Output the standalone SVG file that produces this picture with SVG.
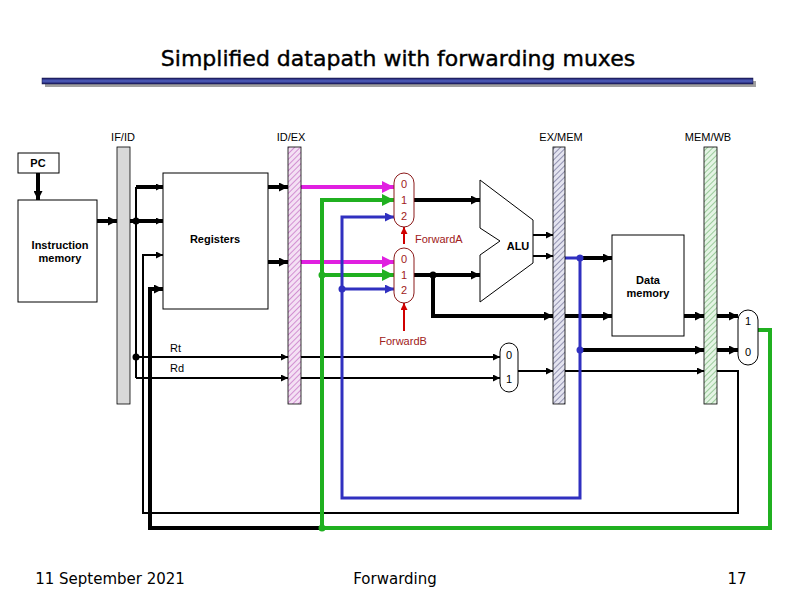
<svg xmlns="http://www.w3.org/2000/svg" width="792" height="612" viewBox="0 0 792 612">
<style>
.t{font-family:"Liberation Sans",Arial,sans-serif;font-size:11px;fill:#000}
.b{font-weight:bold}
.m{font-family:"Liberation Sans",Arial,sans-serif;font-size:11px;fill:#a02020}
.f{font-family:"DejaVu Sans",sans-serif;font-size:15px;fill:#000}
.thin{stroke:#000;stroke-width:2;fill:none}
.thick{stroke:#000;stroke-width:4;fill:none}
.box{fill:#fff;stroke:#000;stroke-width:1}
.mux{fill:#fff;stroke:#8b1a1a;stroke-width:1}
</style>
<defs>
<marker id="a" viewBox="0 0 10 10" refX="10" refY="5" markerWidth="7" markerHeight="7" markerUnits="userSpaceOnUse" orient="auto"><path d="M0,0L10,5L0,10z" fill="#000"/></marker>
<marker id="ah" viewBox="0 0 10 10" refX="10" refY="5" markerWidth="9" markerHeight="9" markerUnits="userSpaceOnUse" orient="auto"><path d="M0,0L10,5L0,10z" fill="#000"/></marker>
<marker id="am" viewBox="0 0 10 10" refX="10" refY="5" markerWidth="3" markerHeight="3" orient="auto"><path d="M0,0L10,5L0,10z" fill="#e020e0"/></marker>
<marker id="ag" viewBox="0 0 10 10" refX="10" refY="5" markerWidth="3" markerHeight="3" orient="auto"><path d="M0,0L10,5L0,10z" fill="#20b020"/></marker>
<marker id="ab" viewBox="0 0 10 10" refX="10" refY="5" markerWidth="3" markerHeight="3" orient="auto"><path d="M0,0L10,5L0,10z" fill="#3030c0"/></marker>
<marker id="ar" viewBox="0 0 10 10" refX="10" refY="5" markerWidth="3.5" markerHeight="3.5" orient="auto"><path d="M0,0L10,5L0,10z" fill="#d00000"/></marker>
<pattern id="hp" width="4" height="4" patternUnits="userSpaceOnUse" patternTransform="rotate(45)"><rect width="4" height="4" fill="#f4e0f4"/><line x1="0" y1="0" x2="0" y2="4" stroke="#b040b0" stroke-width="1"/></pattern>
<pattern id="hb" width="4" height="4" patternUnits="userSpaceOnUse" patternTransform="rotate(45)"><rect width="4" height="4" fill="#e4e4f0"/><line x1="0" y1="0" x2="0" y2="4" stroke="#404070" stroke-width="1"/></pattern>
<pattern id="hg" width="4" height="4" patternUnits="userSpaceOnUse" patternTransform="rotate(45)"><rect width="4" height="4" fill="#e4f4e4"/><line x1="0" y1="0" x2="0" y2="4" stroke="#50a050" stroke-width="1"/></pattern>
<linearGradient id="bar" x1="0" y1="0" x2="0" y2="1"><stop offset="0" stop-color="#1a1a60"/><stop offset="0.5" stop-color="#5060c0"/><stop offset="1" stop-color="#1a1a60"/></linearGradient>
</defs>
<rect width="792" height="612" fill="#fff"/>
<text x="398" y="66" text-anchor="middle" font-family="DejaVu Sans,sans-serif" font-size="22" font-weight="500" stroke="#000" stroke-width="0.4">Simplified datapath with forwarding muxes</text>
<rect x="45" y="81" width="711" height="6" fill="#a0a0a0"/>
<rect x="42" y="78" width="711" height="6" fill="url(#bar)" stroke="#101040" stroke-width="0.5"/>

<g id="labels">
<text class="t" x="123" y="141" text-anchor="middle" font-size="10">IF/ID</text>
<text class="t" x="291" y="141" text-anchor="middle" font-size="10">ID/EX</text>
<text class="t" x="561" y="141" text-anchor="middle" font-size="10">EX/MEM</text>
<text class="t" x="708" y="141" text-anchor="middle" font-size="10">MEM/WB</text>
<text class="t" x="170" y="352">Rt</text>
<text class="t" x="170" y="372">Rd</text>
</g>

<g id="connectors">
<path class="thin" d="M136,187V378"/>
<path class="thick" d="M136,187H163" stroke-width="3" marker-end="url(#a)"/>
<path class="thick" d="M136,221H163" stroke-width="3" marker-end="url(#a)"/>
<path class="thin" d="M136,357H288" marker-end="url(#a)"/>
<path class="thin" d="M136,378H288" marker-end="url(#a)"/>
<path class="thin" d="M301,357H500" marker-end="url(#a)"/>
<path class="thin" d="M301,378H500" marker-end="url(#a)"/>
<path class="thin" d="M518,371H553" marker-end="url(#a)"/>
<path class="thin" d="M565,371H704" marker-end="url(#a)"/>
<path class="thin" stroke-width="1.2" d="M717,371H738V513H143V255H163" marker-end="url(#a)"/>
<path class="thin" d="M533,235H553" marker-end="url(#a)"/>
<path class="thin" d="M533,256H553" marker-end="url(#a)"/>
<path class="thick" d="M38,173V200" marker-end="url(#ah)"/>
<path class="thick" d="M97,221H117" marker-end="url(#ah)"/>
<path class="thick" d="M130,221H136"/>
<path class="thick" d="M268,187H288" marker-end="url(#ah)"/>
<path class="thick" d="M268,262H288" marker-end="url(#ah)"/>
<path class="thick" d="M414,200H480" marker-end="url(#ah)"/>
<path class="thick" d="M414,275H480" marker-end="url(#ah)"/>
<path class="thick" d="M433,275V316H553" marker-end="url(#ah)"/>
<path class="thick" d="M565,316H612" marker-end="url(#ah)"/>
<path class="thick" d="M580,258H612" marker-end="url(#ah)"/>
<path class="thick" d="M580,350H704" marker-end="url(#ah)"/>
<path class="thick" d="M717,350H738" marker-end="url(#ah)"/>
<path class="thick" d="M684,316H704" marker-end="url(#ah)"/>
<path class="thick" d="M717,316H738" marker-end="url(#ah)"/>
<path class="thick" d="M322,528H150V289H163" marker-end="url(#ah)"/>
<path d="M301,187H394" stroke="#e020e0" stroke-width="4" fill="none" marker-end="url(#am)"/>
<path d="M301,262H394" stroke="#e020e0" stroke-width="4" fill="none" marker-end="url(#am)"/>
<path d="M758,330H770V528H322V200H394" stroke="#20b020" stroke-width="4" fill="none" marker-end="url(#ag)"/>
<path d="M322,275H394" stroke="#20b020" stroke-width="4" fill="none" marker-end="url(#ag)"/>
<path d="M565,258H580V498H342V217H394" stroke="#3030c0" stroke-width="3" fill="none" marker-end="url(#ab)"/>
<path d="M342,289H394" stroke="#3030c0" stroke-width="3" fill="none" marker-end="url(#ab)"/>
<path d="M404,244V227" stroke="#d00000" stroke-width="2" fill="none" marker-end="url(#ar)"/>
<path d="M404,331V303" stroke="#d00000" stroke-width="2" fill="none" marker-end="url(#ar)"/>
<circle cx="136" cy="221" r="3.5"/>
<circle cx="136" cy="357" r="3.5"/>
<circle cx="433" cy="275" r="3.5"/>
<circle cx="322" cy="275" r="3.5" fill="#20b020"/>
<circle cx="322" cy="528" r="3.5" fill="#20b020"/>
<circle cx="342" cy="289" r="3.5" fill="#3030c0"/>
<circle cx="580" cy="258" r="3.5" fill="#3030c0"/>
<circle cx="580" cy="350" r="3.5" fill="#3030c0"/>
</g>

<g id="pc"><rect class="box" x="18" y="153" width="41" height="20"/><text class="t b" x="38" y="167" text-anchor="middle">PC</text></g>
<g id="imem"><rect class="box" x="18" y="200" width="79" height="102"/><text class="t b" x="60" y="249" text-anchor="middle">Instruction</text><text class="t b" x="60" y="262" text-anchor="middle">memory</text></g>
<g id="ifid"><rect x="117" y="147" width="13" height="257" fill="#d9d9d9" stroke="#000" stroke-width="0.8"/></g>
<g id="regs"><rect class="box" x="163" y="173" width="105" height="136"/><text class="t b" x="215" y="243" text-anchor="middle">Registers</text></g>
<g id="idex"><rect x="288" y="147" width="13" height="257" fill="url(#hp)" stroke="#000" stroke-width="0.8"/></g>
<g id="muxA"><rect class="mux" x="394" y="173" width="20" height="54" rx="10"/><text class="m" x="404" y="188" text-anchor="middle">0</text><text class="m" x="404" y="204" text-anchor="middle">1</text><text class="m" x="404" y="220" text-anchor="middle">2</text><text class="m" x="415" y="243">ForwardA</text></g>
<g id="muxB"><rect class="mux" x="394" y="248" width="20" height="55" rx="10"/><text class="m" x="404" y="263" text-anchor="middle">0</text><text class="m" x="404" y="279" text-anchor="middle">1</text><text class="m" x="404" y="294" text-anchor="middle">2</text><text class="m" x="403" y="345" text-anchor="middle">ForwardB</text></g>
<g id="alu"><polygon points="480,180 533,220 533,263 480,302 480,255 500,241 480,228" fill="#fff" stroke="#000" stroke-width="1"/><text class="t b" x="518" y="250" text-anchor="middle">ALU</text></g>
<g id="exmem"><rect x="553" y="147" width="12" height="257" fill="url(#hb)" stroke="#000" stroke-width="0.8"/></g>
<g id="dmem"><rect class="box" x="612" y="235" width="72" height="101"/><text class="t b" x="648" y="284" text-anchor="middle">Data</text><text class="t b" x="648" y="297" text-anchor="middle">memory</text></g>
<g id="memwb"><rect x="704" y="147" width="13" height="257" fill="url(#hg)" stroke="#000" stroke-width="0.8"/></g>
<g id="muxRd"><rect class="box" x="500" y="343" width="18" height="49" rx="9"/><text class="t" x="509" y="359" text-anchor="middle">0</text><text class="t" x="509" y="383" text-anchor="middle">1</text></g>
<g id="muxWB"><rect class="box" x="738" y="310" width="20" height="55" rx="10"/><text class="t" x="748" y="325" text-anchor="middle">1</text><text class="t" x="748" y="356" text-anchor="middle">0</text></g>

<text class="f" x="110" y="584" text-anchor="middle">11 September 2021</text>
<text class="f" x="395" y="584" text-anchor="middle">Forwarding</text>
<text class="f" x="737" y="584" text-anchor="middle">17</text>
</svg>
